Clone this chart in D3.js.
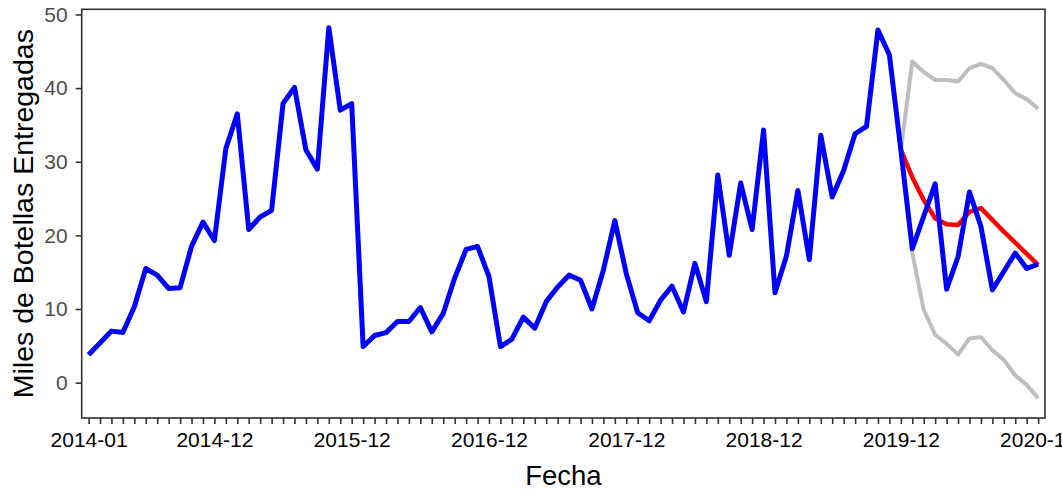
<!DOCTYPE html>
<html>
<head>
<meta charset="utf-8">
<script src="https://cdn.jsdelivr.net/npm/d3@7"></script>
<style>
  html, body { margin: 0; padding: 0; background: #ffffff; }
  svg { display: block; }
</style>
</head>
<body>
<svg id="chart" width="1062" height="491"></svg>
<script>
// Monthly deliveries (thousands of bottles), Jan 2014 – Dec 2020
const startMonth = "2014-01";
const monthCount = 84;

const actual = [
  3.8, 5.4, 7.0, 6.8, 10.3, 15.5, 14.6, 12.8, 12.9, 18.5, 21.8, 19.3,
  31.8, 36.5, 20.8, 22.5, 23.4, 37.9, 40.1, 31.6, 29.0, 48.2, 37.0, 37.9,
  4.9, 6.4, 6.8, 8.3, 8.3, 10.2, 6.9, 9.4, 14.2, 18.1, 18.5, 14.4,
  4.9, 5.9, 8.9, 7.4, 11.0, 13.0, 14.6, 13.9, 10.0, 15.3, 22.0, 14.8,
  9.5, 8.4, 11.2, 13.1, 9.6, 16.2, 11.0, 28.2, 17.3, 27.1, 20.8, 34.3,
  12.2, 17.2, 26.1, 16.7, 33.6, 25.2, 28.8, 33.8, 34.8, 47.9, 44.5, 31.6,
  18.2, 22.6, 27.0, 12.7, 17.1, 25.9, 21.2, 12.6, 15.1, 17.6, 15.5, 16.1
];

// Forecast from Dec 2019 onward, with its interval bounds
const forecastStart = 71;
const forecast = [31.6, 27.9, 24.8, 22.3, 21.5, 21.4, 23.2, 23.7, 22.1, 20.5, 19.0, 17.5, 16.0];
const upper    = [31.6, 43.6, 42.2, 41.1, 41.1, 40.9, 42.7, 43.3, 42.7, 41.1, 39.3, 38.5, 37.2];
const lower    = [31.6, 17.6,  9.9,  6.5,  5.3,  3.8,  6.0,  6.2,  4.4,  3.1,  1.0, -0.3, -2.1];

const xTickLabels = ["2014-01", "2014-12", "2015-12", "2016-12", "2017-12", "2018-12", "2019-12", "2020-12"];
const yTicks = [0, 10, 20, 30, 40, 50];

const fmt = d3.utcFormat("%Y-%m");
const t0 = d3.utcParse("%Y-%m")(startMonth);
const months = d3.range(monthCount).map(i => fmt(d3.utcMonth.offset(t0, i)));

const svg = d3.select("#chart");
const panel = { left: 81.7, right: 1045, top: 9.3, bottom: 418 };
const FONT = "'Liberation Sans', Arial, sans-serif";

const x = d3.scalePoint().domain(months).range([panel.left, panel.right]).padding(0.6);
const y = d3.scaleLinear().domain([-4.8, 50.7]).range([panel.bottom, panel.top]);

const line = d3.line()
  .x(d => x(d.m))
  .y(d => y(d.v));

const toPoints = (vals, offset) => vals.map((v, i) => ({ m: months[offset + i], v }));

const plot = svg.append("g");

function drawLine(vals, offset, color, width) {
  plot.append("path")
    .datum(toPoints(vals, offset))
    .attr("fill", "none")
    .attr("stroke", color)
    .attr("stroke-width", width)
    .attr("stroke-linejoin", "round")
    .attr("stroke-linecap", "butt")
    .attr("d", line);
}

drawLine(upper, forecastStart, "#bebebe", 4);
drawLine(lower, forecastStart, "#bebebe", 4);
drawLine(forecast, forecastStart, "#ff0000", 4.5);
drawLine(actual, 0, "#0000ff", 5);

// Panel border
svg.append("rect")
  .attr("x", panel.left).attr("y", panel.top)
  .attr("width", panel.right - panel.left)
  .attr("height", panel.bottom - panel.top)
  .attr("fill", "none")
  .attr("stroke", "#333333")
  .attr("stroke-width", 1.6);

// Axes
const xAxis = d3.axisBottom(x)
  .tickSize(6)
  .tickPadding(8)
  .tickFormat(m => xTickLabels.includes(m) ? m : "");

const gx = svg.append("g")
  .attr("transform", `translate(0,${panel.bottom})`)
  .call(xAxis);
gx.select(".domain").remove();
gx.selectAll(".tick line").attr("stroke", "#333333").attr("stroke-width", 1.6);
gx.selectAll(".tick text")
  .attr("font-family", FONT)
  .attr("font-size", 21)
  .attr("fill", "#000000");

const yAxis = d3.axisLeft(y)
  .tickValues(yTicks)
  .tickSize(6)
  .tickPadding(8)
  .tickFormat(d3.format("d"));

const gy = svg.append("g")
  .attr("transform", `translate(${panel.left},0)`)
  .call(yAxis);
gy.select(".domain").remove();
gy.selectAll(".tick line").attr("stroke", "#333333").attr("stroke-width", 1.6);
gy.selectAll(".tick text")
  .attr("font-family", FONT)
  .attr("font-size", 21)
  .attr("fill", "#4d4d4d");

// Axis titles
svg.append("text")
  .attr("x", (panel.left + panel.right) / 2)
  .attr("y", 485)
  .attr("text-anchor", "middle")
  .attr("font-family", FONT)
  .attr("font-size", 27.5)
  .attr("fill", "#000000")
  .text("Fecha");

svg.append("text")
  .attr("transform", `translate(33,${(panel.top + panel.bottom) / 2}) rotate(-90)`)
  .attr("text-anchor", "middle")
  .attr("font-family", FONT)
  .attr("font-size", 28.5)
  .attr("fill", "#000000")
  .text("Miles de Botellas Entregadas");
</script>
</body>
</html>
